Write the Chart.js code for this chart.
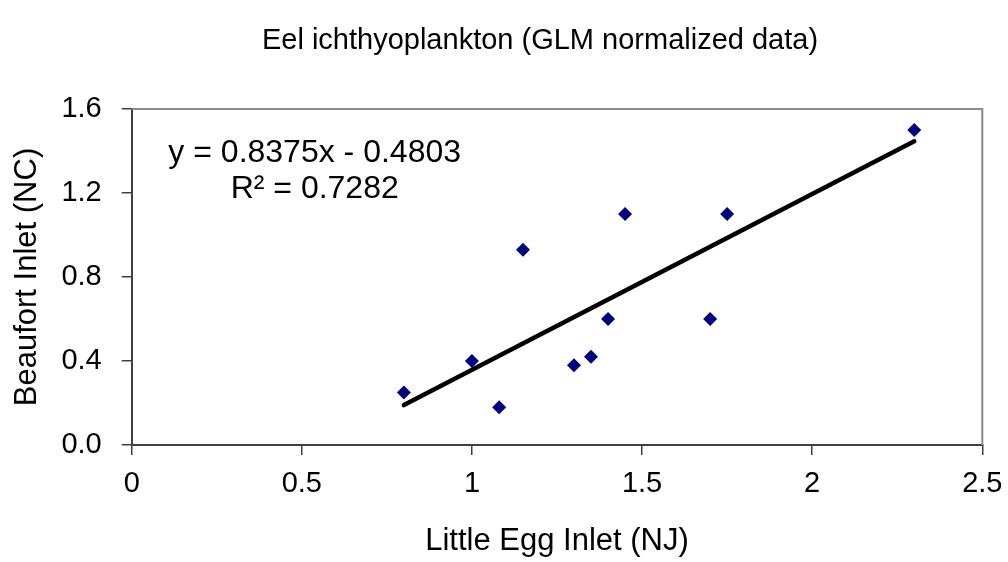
<!DOCTYPE html>
<html>
<head>
<meta charset="utf-8">
<script src="https://cdn.jsdelivr.net/npm/chart.js@4/dist/chart.umd.min.js"></script>
<style>
html,body{margin:0;padding:0;background:#fff;}
#wrap{width:1008px;height:562px;position:relative;}
</style>
</head>
<body>
<div id="wrap"><canvas id="c" width="1008" height="562"></canvas></div>
<script>
// Data
const xValues = [0.8, 1.0, 1.08, 1.15, 1.3, 1.35, 1.4, 1.45, 1.7, 1.75, 2.3];
const yValues = [0.25, 0.4, 0.18, 0.93, 0.38, 0.42, 0.6, 1.1, 0.6, 1.1, 1.5];
const trendX = [0.8, 2.3];
const trendY = [0.19, 1.446];
const xTicks = [0, 0.5, 1, 1.5, 2, 2.5];
const yTicks = [0.0, 0.4, 0.8, 1.2, 1.6];
const titleText = 'Eel ichthyoplankton (GLM normalized data)';
const xTitle = 'Little Egg Inlet (NJ)';
const yTitle = 'Beaufort Inlet (NC)';
const eqLines = ['y = 0.8375x - 0.4803', 'R\u00B2 = 0.7282'];

const FONT = '"Liberation Sans", Arial, sans-serif';

const boxPlugin = {
  id: 'boxPlugin',
  afterDatasetsDraw(chart) {
    const {ctx, chartArea: a} = chart;
    ctx.save();
    ctx.strokeStyle = '#8a8a8a';
    ctx.lineWidth = 2;
    ctx.beginPath();
    ctx.moveTo(a.left, a.top);
    ctx.lineTo(a.right, a.top);
    ctx.lineTo(a.right, a.bottom);
    ctx.stroke();
    ctx.restore();
  },
  afterDraw(chart) {
    const {ctx, chartArea: a} = chart;
    ctx.save();
    ctx.fillStyle = '#000';
    ctx.textAlign = 'center';
    ctx.textBaseline = 'middle';
    ctx.font = '29px ' + FONT;
    ctx.fillText(titleText, 540, 41);
    ctx.font = '32px ' + FONT;
    const cx = a.left + 183;
    ctx.fillText(eqLines[0], cx, a.top + 44);
    ctx.fillText(eqLines[1], cx, a.top + 80);
    ctx.restore();
  }
};

new Chart(document.getElementById('c'), {
  data: {
    datasets: [
      {
        type: 'scatter',
        data: xValues.map((x, i) => ({x, y: yValues[i]})),
        pointStyle: 'rectRot',
        pointRadius: 7,
        backgroundColor: '#000080',
        borderColor: '#000080',
        borderWidth: 0,
        order: 1
      },
      {
        type: 'line',
        data: trendX.map((x, i) => ({x, y: trendY[i]})),
        borderColor: '#000',
        borderWidth: 4.5,
        borderCapStyle: 'round',
        pointRadius: 0,
        fill: false,
        order: 2
      }
    ]
  },
  options: {
    responsive: false,
    animation: false,
    layout: {padding: {left: 0, right: 25.7, top: 109, bottom: 0}},
    plugins: {
      legend: {display: false},
      tooltip: {enabled: false},
      title: {display: false}
    },
    scales: {
      x: {
        type: 'linear',
        min: 0, max: 2.5,
        afterBuildTicks: s => { s.ticks = xTicks.map(v => ({value: v})); },
        afterFit: s => { s.height = 117; s.paddingRight = 0; s.paddingLeft = 0; },
        ticks: {
          color: '#000',
          font: {family: FONT, size: 29},
          padding: 12,
          maxRotation: 0,
          callback: v => String(v)
        },
        grid: {display: true, drawOnChartArea: false, drawTicks: true, tickLength: 10, color: '#404040', lineWidth: 1.5},
        border: {display: true, color: '#404040', width: 2},
        title: {display: true, text: xTitle, color: '#000', font: {family: FONT, size: 31}, padding: {top: 0, bottom: 2}}
      },
      y: {
        type: 'linear',
        min: 0, max: 1.6,
        afterBuildTicks: s => { s.ticks = yTicks.map(v => ({value: v})); },
        afterFit: s => { s.width = 131.7; s.paddingTop = 0; s.paddingBottom = 0; },
        ticks: {
          color: '#000',
          font: {family: FONT, size: 29},
          padding: 20,
          callback: v => v.toFixed(1)
        },
        grid: {display: true, drawOnChartArea: false, drawTicks: true, tickLength: 10, color: '#404040', lineWidth: 1.5},
        border: {display: true, color: '#404040', width: 2},
        title: {display: true, text: yTitle, color: '#000', font: {family: FONT, size: 31}, padding: {top: 9, bottom: 0}}
      }
    }
  },
  plugins: [boxPlugin]
});
</script>
</body>
</html>
